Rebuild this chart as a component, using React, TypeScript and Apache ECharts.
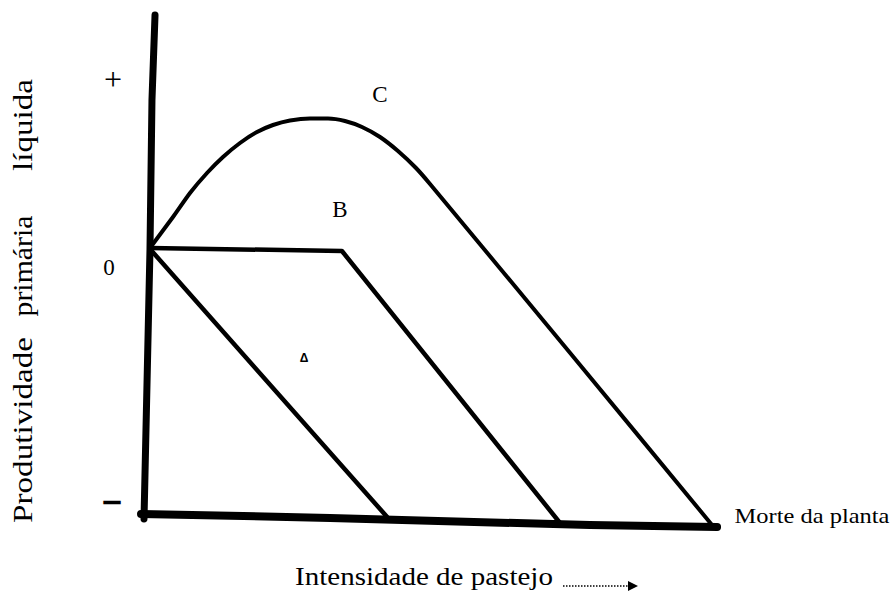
import React, { useEffect, useRef } from "react";
import * as echarts from "echarts";

// Axis-like hand-drawn strokes (intensity 0..100 = plant death, productivity 0 = zero line)
const yAxisStroke: number[][] = [[1.42, 87.97], [0.88, 56.0], [0.53, 0], [-0.53, -101.5]];
const xAxisStroke: number[][] = [[-1.06, -99.6], [32.4, -101.1], [78.4, -103.8], [100.9, -104.5]];

// Response curves
const curveA: number[][] = [[0.53, 0], [42.5, -100.75]];
const curveB: number[][] = [[0.53, 0.38], [34.5, -0.75], [73.1, -103.0]];
const curveC: number[][] = [
  [0.53, 0.38], [4.6, 12.03], [7.61, 21.05], [10.62, 28.57], [13.45, 34.59],
  [16.46, 39.85], [19.47, 43.98], [22.3, 46.62], [25.31, 48.31], [28.85, 49.06],
  [32.04, 49.06], [35.04, 48.12], [38.05, 45.86], [41.24, 42.11], [44.42, 36.84],
  [47.61, 30.45], [50.09, 24.44], [75.04, -39.47], [100, -103.76],
];

const yTickLabels = ["+", "0", "–"];
const curveLetters = ["C", "B", "Δ"];
const yTitleWords = ["Produtividade", "primária", "líquida"];
const xTitle = "Intensidade de pastejo";
const endLabel = "Morte da planta";

const FONT = '"Liberation Serif", "Times New Roman", serif';

function measure(text: string, size: number): number {
  const ctx = document.createElement("canvas").getContext("2d");
  if (!ctx) return text.length * size * 0.45;
  ctx.font = `${size}px "Liberation Serif"`;
  return ctx.measureText(text).width;
}

function fitText(text: string, size: number, cx: number, cy: number, targetLen: number, rotated = false) {
  const w = measure(text, size);
  const s = targetLen / w;
  return {
    type: "text",
    x: cx,
    y: cy,
    rotation: rotated ? Math.PI / 2 : 0,
    scaleX: s,
    style: {
      text,
      fill: "#000",
      font: `${size}px ${FONT}`,
      textAlign: "center",
      textVerticalAlign: "middle",
    },
  };
}

export default function App() {
  const ref = useRef<HTMLDivElement>(null);
  useEffect(() => {
    if (!ref.current) return;
    const chart = echarts.init(ref.current, undefined, { renderer: "svg" });
    const lineSeries = (data: number[][], width: number, smooth: number | boolean = false) => ({
      type: "line",
      data,
      smooth,
      symbol: "none",
      silent: true,
      lineStyle: { color: "#000", width, cap: "round", join: "round" },
    });
    const txt = (text: string, size: number, x: number, y: number, extra: any = {}) => ({
      type: "text",
      x,
      y,
      style: {
        text,
        fill: "#000",
        font: `${size}px ${FONT}`,
        textAlign: "center",
        textVerticalAlign: "middle",
        ...extra,
      },
    });
    chart.setOption({
      animation: false,
      backgroundColor: "#fff",
      grid: { left: 130.05, right: 172.7, top: 9.6, bottom: 55.72 },
      xAxis: { type: "value", min: -3, max: 102, show: false },
      yAxis: { type: "value", min: -108, max: 90, show: false },
      series: [
        lineSeries(yAxisStroke, 7),
        lineSeries(xAxisStroke, 8),
        lineSeries(curveA, 4.5),
        lineSeries(curveB, 4.5),
        lineSeries(curveC, 4, 0.2),
      ],
      graphic: [
        txt(yTickLabels[0], 32, 113, 79),
        txt(yTickLabels[1], 23, 109, 267),
        txt(yTickLabels[2], 30, 112, 499, { stroke: "#000", lineWidth: 2 }),
        txt(curveLetters[0], 23, 380, 94),
        txt(curveLetters[1], 23, 340, 209),
        txt(curveLetters[2], 15, 304, 358, { fontWeight: "bold" }),
        fitText(yTitleWords[0], 27, 23, 430, 186, true),
        fitText(yTitleWords[1], 27, 23, 266, 101, true),
        fitText(yTitleWords[2], 27, 23, 125, 92, true),
        fitText(xTitle, 25, 424, 577, 258),
        fitText(endLabel, 21, 812, 516, 155),
        {
          type: "line",
          shape: { x1: 563, y1: 586, x2: 629, y2: 586 },
          style: { stroke: "#000", lineWidth: 1.5, lineDash: [1.5, 1.5] },
        },
        {
          type: "polygon",
          shape: { points: [[628, 581], [638, 586], [628, 591]] },
          style: { fill: "#000" },
        },
      ],
    });
    return () => chart.dispose();
  }, []);
  return <div ref={ref} style={{ width: 896, height: 592, position: "absolute", left: 0, top: 0 }} />;
}
